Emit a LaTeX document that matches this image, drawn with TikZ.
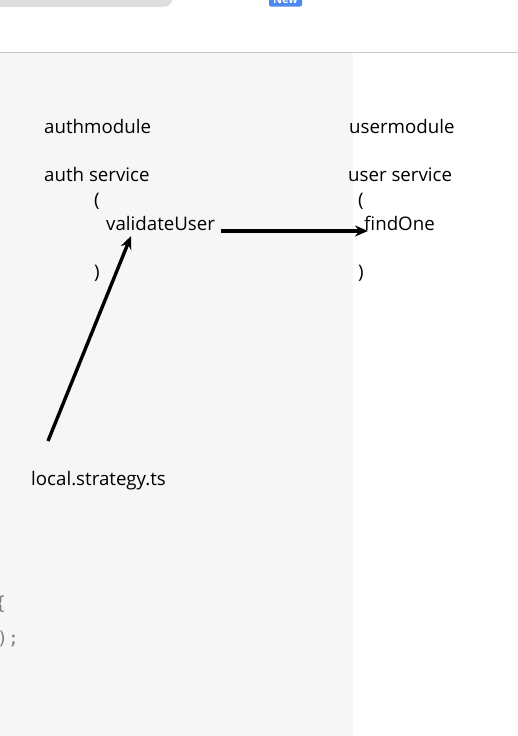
\documentclass[tikz,border=0pt]{standalone}
\usepackage{fontspec}
\setmainfont{Open Sans}
\newfontfamily\codefont{DejaVu Sans Mono}
\usetikzlibrary{arrows.meta}
\definecolor{panel}{HTML}{F6F6F6}
\definecolor{rule}{HTML}{C8C8C8}
\definecolor{tabgray}{HTML}{DEDEDE}
\definecolor{badge}{HTML}{4D8AF0}
\definecolor{codegray}{HTML}{7A7F86}
\tikzset{
  lbl/.style={inner sep=0pt, anchor=base west, font=\fontsize{18.7}{22}\selectfont, text=black},
  code/.style={inner sep=0pt, anchor=base west, font=\codefont\fontsize{18}{20}\selectfont, text=codegray},
  arr/.style={line width=3.4pt, -{Stealth[length=13pt,width=11pt]}}
}
\begin{document}
\begin{tikzpicture}[x=1pt,y=1pt]
\useasboundingbox (0,0) rectangle (518,-736);
\clip (0,0) rectangle (518,-736);
\fill[white] (0,0) rectangle (518,-736);
% top bar pieces
\fill[tabgray, rounded corners=10pt] (-20,20) rectangle (173,-7);
\fill[badge, rounded corners=2pt] (269,20) rectangle (302,-6.5);
\node[inner sep=0pt, text=white, font=\fontsize{11}{12}\selectfont\bfseries, anchor=base] (new) at (285.5,-3) {New};
\draw[rule, line width=1pt] (0,-52.5) -- (518,-52.5);
\fill[panel] (0,-53) rectangle (353,-736);
% texts
\node[lbl] (am) at (44,-133) {authmodule};
\node[lbl] (as) at (44,-181) {auth service};
\node[lbl] (ao) at (94,-206) {(};
\node[lbl] (vu) at (106,-230) {validateUser};
\node[lbl] (ac) at (94,-278) {)};
\node[lbl] (um) at (349,-133) {usermodule};
\node[lbl] (us) at (348,-181) {user service};
\node[lbl] (uo) at (358,-206) {(};
\node[lbl] (fo) at (364,-230) {findOne};
\node[lbl] (uc) at (358,-278) {)};
\node[lbl] (ls) at (31,-485) {local.strategy.ts};
% code fragments
\node[code] (c1) at (-5,-609) {\{};
\node[code] (c2) at (-3,-644) {);};
% arrows
\draw[arr] ([shift={(17,44)}]ls.base west) -- ([shift={(25,-6)}]vu.base west);
\draw[arr] ([shift={(6,-1)}]vu.base east) -- ([shift={(4,-1)}]fo.base west);
\end{tikzpicture}
\end{document}
